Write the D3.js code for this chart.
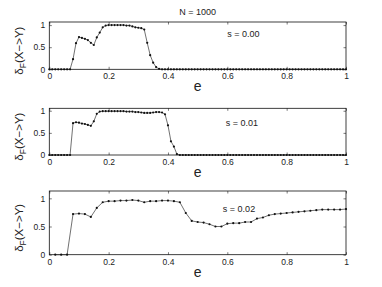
<!DOCTYPE html>
<html>
<head>
<meta charset="utf-8">
<script src="https://cdn.jsdelivr.net/npm/d3@7"></script>
<style>
  body { margin: 0; background: #fff; }
  svg { display: block; font-family: "Liberation Sans", Arial, sans-serif; }
  .tick text { font-size: 8.5px; fill: #222; }
  .tick line { stroke: #222; stroke-width: 0.6; }
</style>
</head>
<body>
<div id="chart"></div>
<script>
// sampling grid of e for the two dense runs
const eFine = d3.range(0, 101).map(i => i / 100)

// s = 0.00
const s000 = [
  0, 0, 0, 0, 0, 0, 0, 0,
  0.23, 0.59, 0.73, 0.71, 0.69, 0.66, 0.60, 0.55, 0.72, 0.83,
  0.95, 0.99, 1.0, 1.0, 1.0, 1.0, 1.0, 1.0, 0.99, 0.99,
  0.97, 0.95, 0.94, 0.93, 0.90, 0.60, 0.32, 0.15, 0.05, 0.01,
  0, 0, 0, 0, 0, 0, 0, 0, 0, 0, 0, 0, 0, 0, 0, 0, 0, 0, 0, 0, 0,
  0, 0, 0, 0, 0, 0, 0, 0, 0, 0, 0, 0, 0, 0, 0, 0, 0, 0, 0, 0, 0,
  0, 0, 0, 0, 0, 0, 0, 0, 0, 0, 0, 0, 0, 0, 0, 0, 0, 0, 0, 0, 0
]

// s = 0.01
const s001 = [
  0, 0, 0, 0, 0, 0, 0, 0,
  0.72, 0.74, 0.73, 0.71, 0.70, 0.68, 0.66, 0.76, 0.93, 0.98,
  0.99, 0.99, 0.99, 0.99, 0.99, 0.99, 0.99, 0.99, 0.98, 0.98,
  0.98, 0.97, 0.97, 0.96, 0.95, 0.95, 0.95, 0.96, 0.97, 0.97,
  0.96, 0.92, 0.67, 0.31, 0.19, 0.02,
  0, 0, 0, 0, 0, 0, 0, 0, 0, 0, 0, 0, 0, 0, 0, 0, 0, 0, 0,
  0, 0, 0, 0, 0, 0, 0, 0, 0, 0, 0, 0, 0, 0, 0, 0, 0, 0, 0,
  0, 0, 0, 0, 0, 0, 0, 0, 0, 0, 0, 0, 0, 0, 0, 0, 0, 0, 0
]

// s = 0.02 (coarser grid)
const eCoarse = [
  0.02, 0.04, 0.06, 0.08, 0.10, 0.12, 0.14, 0.16, 0.18, 0.20,
  0.22, 0.24, 0.26, 0.28, 0.30, 0.32, 0.34, 0.36, 0.38, 0.40,
  0.42, 0.44, 0.46, 0.48, 0.50, 0.52, 0.54, 0.56, 0.58, 0.60,
  0.62, 0.64, 0.66, 0.68, 0.70, 0.72, 0.74, 0.76, 0.78, 0.80,
  0.82, 0.84, 0.86, 0.88, 0.90, 0.92, 0.94, 0.96, 0.98, 1.00
]
const s002 = [
  0, 0, 0, 0.72, 0.73, 0.72, 0.67, 0.83, 0.93, 0.95,
  0.95, 0.96, 0.96, 0.97, 0.96, 0.93, 0.95, 0.95, 0.96, 0.96,
  0.95, 0.93, 0.74, 0.60, 0.58, 0.57, 0.54, 0.50, 0.50, 0.55,
  0.56, 0.56, 0.58, 0.58, 0.64, 0.66, 0.70, 0.72, 0.73, 0.74,
  0.75, 0.76, 0.77, 0.78, 0.79, 0.80, 0.80, 0.80, 0.80, 0.81
]

const xTicks = [0, 0.2, 0.4, 0.6, 0.8, 1]
const yTicks = [0, 0.5, 1]

const panels = [
  { e: eFine, v: s000, label: 's = 0.00', top: 22, bottom: 69.3, ymax: 1.07, lx: 0.6, ly: 0.8 },
  { e: eFine, v: s001, label: 's = 0.01', top: 108.3, bottom: 155, ymax: 1.055, lx: 0.595, ly: 0.73 },
  { e: eCoarse, v: s002, label: 's = 0.02', top: 191, bottom: 254.7, ymax: 1.13, lx: 0.585, ly: 0.81 }
]

const width = 382
const height = 287
const left = 49.3
const right = 346

let svg = d3.select('#chart').append('svg')
  .attr('width', width)
  .attr('height', height)

let x = d3.scaleLinear().domain([0, 1]).range([left, right])

svg.append('text')
  .attr('x', (left + right) / 2)
  .attr('y', 15)
  .attr('text-anchor', 'middle')
  .style('font-size', '9px')
  .style('fill', '#222')
  .text('N = 1000')

panels.forEach(p => {

  let y = d3.scaleLinear().domain([0, p.ymax]).range([p.bottom, p.top])
  let g = svg.append('g')

  // inward ticks on all four sides, like the original
  g.append('g')
    .attr('transform', 'translate(0,' + p.bottom + ')')
    .call(d3.axisBottom(x).tickValues(xTicks).tickSizeInner(-2.5).tickSizeOuter(0).tickPadding(4)
      .tickFormat(d3.format('')))
    .call(a => a.select('.domain').remove())

  g.append('g')
    .attr('transform', 'translate(0,' + p.top + ')')
    .call(d3.axisTop(x).tickValues(xTicks).tickSizeInner(-2.5).tickSizeOuter(0).tickFormat(''))
    .call(a => a.select('.domain').remove())

  g.append('g')
    .attr('transform', 'translate(' + left + ',0)')
    .call(d3.axisLeft(y).tickValues(yTicks).tickSizeInner(-2.5).tickSizeOuter(0).tickPadding(4)
      .tickFormat(d3.format('')))
    .call(a => a.select('.domain').remove())

  g.append('g')
    .attr('transform', 'translate(' + right + ',0)')
    .call(d3.axisRight(y).tickValues(yTicks).tickSizeInner(-2.5).tickSizeOuter(0).tickFormat(''))
    .call(a => a.select('.domain').remove())

  g.append('rect')
    .attr('x', left)
    .attr('y', p.top)
    .attr('width', right - left)
    .attr('height', p.bottom - p.top)
    .style('fill', 'none')
    .style('stroke', '#111')
    .style('stroke-width', 0.8)

  let pts = p.e.map((e, i) => [e, p.v[i]])

  g.append('path')
    .datum(pts)
    .attr('d', d3.line().x(d => x(d[0])).y(d => y(d[1])))
    .style('fill', 'none')
    .style('stroke', '#333')
    .style('stroke-width', 0.7)

  g.selectAll('circle')
    .data(pts)
    .enter()
    .append('circle')
    .attr('cx', d => x(d[0]))
    .attr('cy', d => y(d[1]))
    .attr('r', 1.1)
    .style('fill', '#111')

  g.append('text')
    .attr('x', x(p.lx))
    .attr('y', y(p.ly))
    .attr('dy', '0.35em')
    .style('font-size', '9px')
    .style('fill', '#222')
    .text(p.label)

  // y label, delta with subscript F
  let yl = g.append('text')
    .attr('transform', 'translate(23,' + ((p.top + p.bottom) / 2 + 5) + ') rotate(-90)')
    .attr('text-anchor', 'middle')
    .style('font-size', '11.5px')
    .style('fill', '#222')
  yl.append('tspan').text('δ')
  yl.append('tspan').attr('dy', 3).style('font-size', '8.5px').text('F')
  yl.append('tspan').attr('dy', -3).text('(X−>Y)')

  g.append('text')
    .attr('x', (left + right) / 2)
    .attr('y', p.bottom + 22)
    .attr('text-anchor', 'middle')
    .style('font-size', '14px')
    .style('fill', '#222')
    .text('e')
})
</script>
</body>
</html>
